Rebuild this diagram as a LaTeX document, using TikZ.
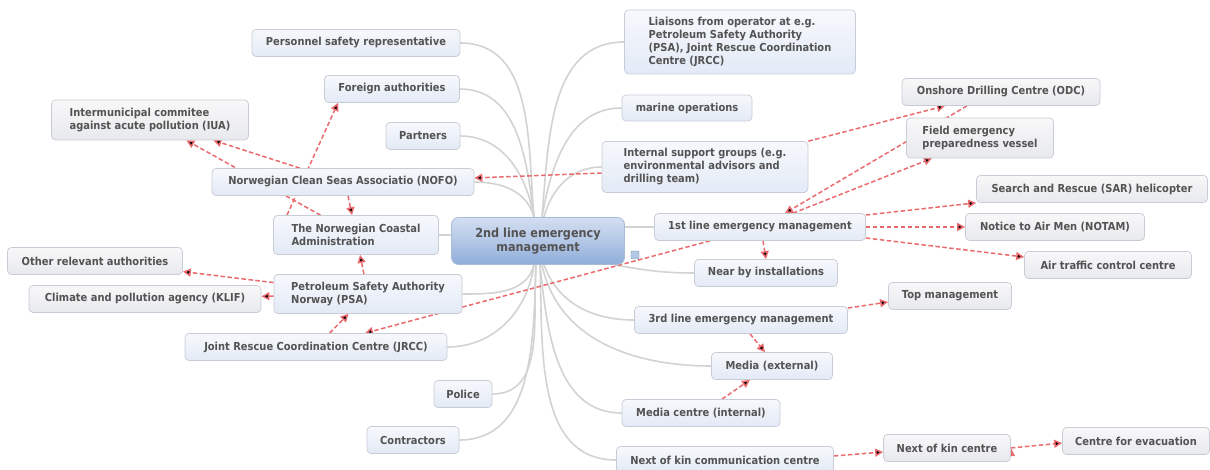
\documentclass[tikz,border=0pt]{standalone}
\usepackage{fontspec}
\setmainfont{DejaVu Sans}[FakeStretch=0.9]
\usetikzlibrary{arrows.meta,backgrounds}
\definecolor{txt}{HTML}{535353}
\definecolor{boxline}{HTML}{C8CCD6}
\definecolor{topA}{HTML}{F6F8FC}
\definecolor{topB}{HTML}{E3EAF6}
\definecolor{subA}{HTML}{F8F8F9}
\definecolor{subB}{HTML}{E8E9ED}
\definecolor{hubA}{HTML}{D3DFF1}
\definecolor{hubM}{HTML}{B3C7E6}
\definecolor{hubB}{HTML}{8EADD9}
\definecolor{hubline}{HTML}{A8BCD8}
\definecolor{branchgray}{HTML}{D3D3D3}
\definecolor{relred}{HTML}{EA6A6E}
\tikzset{
	topic/.style={draw=boxline, line width=0.7pt, rounded corners=4pt, top color=topA, bottom color=topB, text=txt, font=\fontsize{11}{13}\selectfont\bfseries, minimum height=27, inner xsep=10pt, align=left}, % boxes hanging from the centre
	subtopic/.style={topic, top color=subA, bottom color=subB}, % boxes reached only by the red arrows
	hub/.style={draw=hubline, line width=0.8pt, rounded corners=7pt, top color=hubA, bottom color=hubB, middle color=hubM, text=txt, font=\fontsize{12.5}{14}\selectfont\bfseries, align=center}, % the central topic
	branch/.style={draw=branchgray, line width=1.6pt}, % grey mind map branches
	rel/.style={draw=relred, line width=1.5pt, dash pattern=on 4.5pt off 2.5pt, -{Triangle[length=8pt,width=8pt]}}, % red dashed relations
	fold/.style={draw=hubline!80!black, fill=hubM, minimum size=8, inner sep=0pt, rounded corners=1pt}, % the small collapse button
}
\begin{document}
\begin{tikzpicture}[x=1pt,y=-1pt]
	\useasboundingbox (0,0) rectangle (1210,470);
	% centre
	\node[hub, minimum width=173, minimum height=47] (c) at (538,241) {2nd line emergency\\management};
	\node[fold] (fold) at (635,255) {};
	% left side
	\node[topic, minimum width=208] (pers) at (356,43) {Personnel safety representative};
	\node[topic, minimum width=135] (forn) at (392,89) {Foreign authorities};
	\node[subtopic, minimum width=197, minimum height=40] (iua) at (150,120) {Intermunicipal commitee\\against acute pollution (IUA)};
	\node[topic, minimum width=74] (part) at (423,136) {Partners};
	\node[topic, minimum width=262] (nofo) at (343,182) {Norwegian Clean Seas Associatio (NOFO)};
	\node[topic, minimum width=165, minimum height=39] (coast) at (356,235) {The Norwegian Coastal\\Administration};
	\node[subtopic, minimum width=175] (other) at (95,261) {Other relevant authorities};
	\node[topic, minimum width=188, minimum height=39] (psa) at (368,294) {Petroleum Safety Authority\\Norway (PSA)};
	\node[subtopic, minimum width=232] (klif) at (145,299) {Climate and pollution agency (KLIF)};
	\node[topic, minimum width=262] (jrcc) at (316,347) {Joint Rescue Coordination Centre (JRCC)};
	\node[topic, minimum width=58] (pol) at (463,394) {Police};
	\node[topic, minimum width=92] (contr) at (413,440) {Contractors};
	% right side
	\node[topic, minimum width=231, minimum height=64] (liais) at (740,42) {Liaisons from operator at e.g.\\Petroleum Safety Authority\\(PSA), Joint Rescue Coordination\\Centre (JRCC)};
	\node[topic, minimum width=130, minimum height=26] (mar) at (687,108) {marine operations};
	\node[topic, minimum width=206, minimum height=51] (intl) at (705,167) {Internal support groups (e.g.\\environmental advisors and\\drilling team)};
	\node[topic, minimum width=211] (first) at (760,227) {1st line emergency management};
	\node[subtopic, minimum width=198] (odc) at (1001,92) {Onshore Drilling Centre (ODC)};
	\node[subtopic, minimum width=147, minimum height=40] (fev) at (980,138) {Field emergency\\preparedness vessel};
	\node[subtopic, minimum width=231] (sar) at (1092,189) {Search and Rescue (SAR) helicopter};
	\node[subtopic, minimum width=179] (notam) at (1055,227) {Notice to Air Men (NOTAM)};
	\node[subtopic, minimum width=167] (atc) at (1108,265) {Air traffic control centre};
	\node[topic, minimum width=143] (near) at (766,273) {Near by installations};
	\node[topic, minimum width=213] (third) at (741,320) {3rd line emergency management};
	\node[subtopic, minimum width=123] (top) at (950,296) {Top management};
	\node[topic, minimum width=121] (mext) at (772,366) {Media (external)};
	\node[topic, minimum width=158] (mcen) at (701,413) {Media centre (internal)};
	\node[topic, minimum width=217] (nokc) at (725,460) {Next of kin communication centre};
	\node[subtopic, minimum width=127] (nokn) at (947,448) {Next of kin centre};
	\node[subtopic, minimum width=147] (evac) at (1136,441) {Centre for evacuation};

	\begin{scope}[on background layer]
	\fill[white] (0,0) rectangle (1210,470);
	% grey branches
	\draw[branch] ([xshift=-4]c.north) edge[out=95,in=0] (pers.east)
		([xshift=-4]c.north) edge[out=97,in=0] (forn.east)
		([xshift=-4]c.north) edge[out=100,in=0] (part.east)
		([xshift=-4]c.north) edge[out=105,in=0] (nofo.east)
		(coast.east) edge (coast.east -| c.west)
		([xshift=-4]c.south) edge[out=255,in=0] (psa.east)
		([xshift=-4]c.south) edge[out=262,in=0] (jrcc.east)
		([xshift=-2]c.south) edge[out=266,in=0] (pol.east)
		([xshift=-2]c.south) edge[out=268,in=0] (contr.east)
		([xshift=4]c.north) edge[out=85,in=180] (liais.west)
		([xshift=4]c.north) edge[out=80,in=180] (mar.west)
		([xshift=6]c.north) edge[out=75,in=180] (intl.west)
		(first.west -| c.east) edge (first.west)
		([xshift=-10]c.south east) edge[out=-10,in=180] (near.west)
		([xshift=6]c.south) edge[out=-70,in=180] (third.west)
		([xshift=4]c.south) edge[out=-78,in=180] (mext.west)
		([xshift=2]c.south) edge[out=-84,in=180] (mcen.west)
		([xshift=2]c.south) edge[out=-88,in=180] (nokc.west);
	% red relations
	\draw[rel] (nofo) edge (iua)
		(coast) edge (iua)
		([xshift=-69]coast.north) edge ([xshift=-54]forn.south)
		([xshift=5]nofo.south) edge ([xshift=-4]coast.north)
		(psa) edge (coast)
		(psa) edge (other)
		(psa) edge (klif)
		(jrcc) edge (psa)
		([xshift=-50]first.south) edge ([xshift=49]jrcc.north)
		([yshift=-6]intl.west) edge ([yshift=4]nofo.east)
		(intl.north east) edge ([xshift=-56]odc.south)
		([xshift=-34]odc.south) edge ([xshift=25]first.north)
		([xshift=33]first.north) edge ([xshift=-48]fev.south)
		([yshift=12]first.east) edge (sar.south west)
		(first.east) edge (notam.west)
		([yshift=-11]first.east) edge ([yshift=8]atc.west)
		([xshift=3]first.south) edge (near.north)
		([yshift=12]third.east) edge ([yshift=-6]top.west)
		([xshift=9]third.south) edge ([xshift=-7]mext.north)
		([xshift=21]mcen.north) edge ([xshift=-22]mext.south)
		([yshift=4]nokc.east) edge ([yshift=-4]nokn.west)
		(nokn.east) edge ([yshift=-2]evac.west);
	\end{scope}
\end{tikzpicture}
\end{document}
